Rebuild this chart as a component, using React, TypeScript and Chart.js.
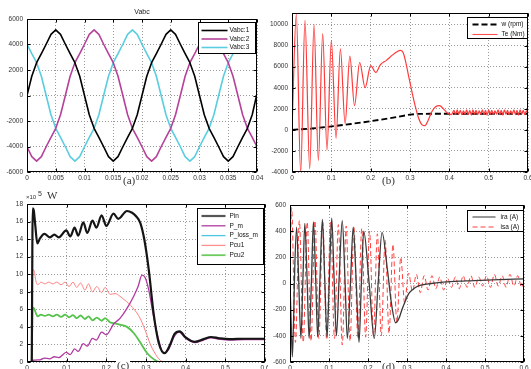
import React, { useEffect, useRef } from "react";
import { Chart, registerables } from "chart.js";
Chart.register(...registerables);

// ---------------- data ----------------
// (a) Vabc
const A_T = [0,0.00083,0.00167,0.0025,0.00333,0.00417,0.005,0.00583,0.00667,0.0075,0.00833,0.00917,0.01,0.01083,0.01167,0.0125,0.01333,0.01417,0.015,0.01583,0.01667,0.0175,0.01833,0.01917,0.02,0.02083,0.02167,0.0225,0.02333,0.02417,0.025,0.02583,0.02667,0.0275,0.02833,0.02917,0.03,0.03083,0.03167,0.0325,0.03333,0.03417,0.035,0.03583,0.03667,0.0375,0.03833,0.03917,0.04];
const A_V1 = [0,1513,2575,3281,4019,4794,5150,4794,4019,3281,2575,1513,0,-1513,-2575,-3281,-4019,-4794,-5150,-4794,-4019,-3281,-2575,-1513,0,1513,2575,3281,4019,4794,5150,4794,4019,3281,2575,1513,0,-1513,-2575,-3281,-4019,-4794,-5150,-4794,-4019,-3281,-2575,-1513,150];
const A_V2 = [-4019,-4794,-5150,-4794,-4019,-3281,-2575,-1513,0,1513,2575,3281,4019,4794,5150,4794,4019,3281,2575,1513,0,-1513,-2575,-3281,-4019,-4794,-5150,-4794,-4019,-3281,-2575,-1513,0,1513,2575,3281,4019,4794,5150,4794,4019,3281,2575,1513,0,-1513,-2575,-3281,-4019];
const A_V3 = [4019,3281,2575,1513,0,-1513,-2575,-3281,-4019,-4794,-5150,-4794,-4019,-3281,-2575,-1513,0,1513,2575,3281,4019,4794,5150,4794,4019,3281,2575,1513,0,-1513,-2575,-3281,-4019,-4794,-5150,-4794,-4019,-3281,-2575,-1513,0,1513,2575,3281,4019,4794,5150,4794,4019];
const A_XTICKS = [0,0.005,0.01,0.015,0.02,0.025,0.03,0.035,0.04];
const A_YTICKS = [-6000,-4000,-2000,0,2000,4000,6000];

// (b) w (rpm), Te (Nm)
const B_W_T = [0,0.05,0.1,0.15,0.2,0.25,0.3,0.32,0.35,0.6];
const B_W_V = [0,130,330,560,820,1120,1450,1520,1530,1530];
const B_TE_T = [0,0.011,0.022,0.033,0.045,0.056,0.067,0.078,0.089,0.1,0.112,0.123,0.135,0.147,0.159,0.172,0.186,0.2,0.213,0.225,0.24,0.255,0.268,0.276,0.283,0.29,0.297,0.305,0.313,0.322,0.33,0.338,0.346,0.355,0.365,0.375,0.385,0.395,0.405,
  0.412,0.416,0.42,0.424,0.428,0.432,0.436,0.44,0.444,0.448,0.452,0.456,0.46,0.464,0.468,0.472,0.476,0.48,0.484,0.488,0.492,0.496,0.5,0.504,0.508,0.512,0.516,0.52,0.524,0.528,0.532,0.536,0.54,0.544,0.548,0.552,0.556,0.56,0.564,0.568,0.572,0.576,0.58,0.584,0.588,0.592,0.596,0.6];
const B_TE_V = [0,11000,-4100,10400,-3700,10000,-2900,9150,-1900,8500,-800,7700,600,7000,2300,6400,4000,6100,5450,6200,6600,7100,7450,7550,7300,6300,5000,3600,2300,1100,500,400,900,1700,2200,2300,2000,1600,1450,
  1850,1450,1900,1500,1850,1450,1800,1500,1900,1450,1850,1400,
  1900,1500,1850,1450,1800,1500,1900,1450,1850,1400,1900,1500,
  1850,1450,1800,1500,1900,1450,1850,1400,1900,1500,1850,1450,
  1800,1500,1900,1450,1850,1400,1900,1500,1850,1450,1800,1600];
const B_XTICKS = [0,0.1,0.2,0.3,0.4,0.5,0.6];
const B_YTICKS = [-4000,-2000,0,2000,4000,6000,8000,10000];

// (c) powers, x10^5 W
const C_PIN_T = [0.012,0.0145,0.017,0.021,0.026,0.033,0.044,0.057,0.069,0.08,0.099,0.109,0.12,0.129,0.142,0.152,0.165,0.175,0.188,0.2,0.218,0.23,0.252,0.265,0.275,0.286,0.296,0.307,0.319,0.332,0.347,0.36,0.372,0.385,0.4,0.423,0.445,0.464,0.485,0.51,0.55,0.6];
const C_PIN_V = [0,17.5,17.3,15.5,13.5,14.1,14.6,14.2,14.5,14.2,15.0,14.3,15.3,14.4,15.9,14.7,16.1,15.3,16.7,15.5,16.9,16.3,17.2,17.0,16.6,15.8,13.9,10.5,5.6,2.2,1.0,1.9,3.2,3.5,2.8,2.3,2.6,2.85,2.7,2.6,2.65,2.65];
const C_PM_T = [0.012,0.015,0.033,0.044,0.057,0.069,0.08,0.099,0.109,0.12,0.129,0.142,0.152,0.165,0.175,0.188,0.2,0.218,0.235,0.252,0.269,0.28,0.29,0.298,0.307,0.319,0.332,0.345,0.358,0.37,0.383,0.4,0.423,0.445,0.464,0.485,0.51,0.55,0.6];
const C_PM_V = [0,0.2,0.25,0.45,0.35,0.6,0.5,1.1,0.85,1.5,1.2,2.1,1.8,2.7,2.5,3.4,3.1,4.3,5.0,6.1,7.5,8.6,9.9,9.6,8.2,5.2,2.5,1.0,1.5,2.8,3.4,2.7,2.2,2.5,2.75,2.6,2.5,2.55,2.55];
const C_PLOSS_T = [0.015,0.6];
const C_PLOSS_V = [0.05,0.05];
const C_CU1_T = [0.012,0.0145,0.018,0.022,0.027,0.035,0.045,0.055,0.065,0.075,0.086,0.096,0.106,0.116,0.125,0.135,0.146,0.155,0.165,0.176,0.188,0.197,0.21,0.222,0.234,0.245,0.256,0.266,0.277,0.286,0.294,0.303,0.311,0.32,0.328,0.336,0.345,0.6];
const C_CU1_V = [0,10.5,10.4,9.3,8.8,9.1,8.9,9.1,8.9,9.1,8.8,9.1,8.6,9.1,8.5,9.0,8.2,8.9,8.0,8.6,7.9,8.5,7.7,7.8,7.5,7.1,6.7,6.2,5.6,4.9,4.05,3.0,2.0,1.2,0.6,0.2,0,0];
const C_CU2_T = [0.012,0.0145,0.018,0.022,0.027,0.035,0.045,0.055,0.065,0.075,0.086,0.096,0.106,0.116,0.125,0.135,0.146,0.155,0.165,0.176,0.188,0.197,0.21,0.222,0.234,0.252,0.269,0.286,0.303,0.32,0.333,0.6];
const C_CU2_V = [0,6.2,6.1,5.6,5.2,5.4,5.25,5.4,5.2,5.4,5.15,5.4,5.1,5.35,5.0,5.3,4.9,5.2,4.75,5.05,4.7,5.0,4.5,4.4,4.25,4.0,3.3,2.2,1.0,0.3,0,0];
const C_XTICKS = [0,0.1,0.2,0.3,0.4,0.5,0.6];
const C_YTICKS = [0,2,4,6,8,10,12,14,16,18];

// (d) rotor / stator currents
const D_IRA_T = [0,0.003,0.006,0.009,0.012,0.017,0.022,0.028,0.033,0.038,0.044,0.049,0.055,0.06,0.066,0.071,0.077,0.083,0.089,0.095,0.101,0.107,0.113,0.119,0.126,0.134,0.141,0.147,0.155,0.162,0.17,0.177,0.183,0.189,0.203,0.216,0.226,0.236,0.25,0.26,0.271,0.279,0.287,0.295,0.303,0.315,0.328,0.362,0.45,0.52,0.6];
const D_IRA_V = [0,-300,-560,-300,100,430,50,-420,20,460,20,-420,20,470,20,-410,50,490,40,-410,40,500,40,-400,40,480,30,-420,0,430,0,-450,0,400,0,-420,0,390,100,-150,-300,-270,-200,-140,-85,-45,-20,0,20,28,35];
const D_ISA_T = [0,0.004,0.014,0.024,0.034,0.044,0.054,0.064,0.074,0.084,0.094,0.104,0.114,0.124,0.134,0.144,0.154,0.164,0.174,0.184,0.194,0.204,0.214,0.224,0.234,0.244,0.254,0.264,0.274,0.284,0.294,0.304,0.314,0.324,0.334,0.344,0.354,0.364,0.374,0.384,0.394,0.404,0.414,0.424,0.434,0.444,0.454,0.464,0.474,0.484,0.494,0.504,0.514,0.524,0.534,0.544,0.554,0.564,0.574,0.584,0.594,0.6];
const D_ISA_V = [0,580,-450,480,-450,470,-440,480,-420,470,-430,470,-420,450,-470,440,-440,430,-420,420,-410,400,-400,380,-400,330,-380,300,-300,200,-150,80,-60,70,-70,60,-50,60,-40,50,-50,40,-30,50,-40,60,-30,60,-30,50,-20,60,-30,70,-20,60,-30,70,-20,60,-30,20];
const D_XTICKS = [0,0.1,0.2,0.3,0.4,0.5,0.6];
const D_YTICKS = [-600,-400,-200,0,200,400,600];

// ---------------- helpers ----------------
const SANS = "'Liberation Sans', Arial, Helvetica, sans-serif";
const SERIF = "'Liberation Serif', 'Times New Roman', serif";
const TICK_SIZE = 6.5;

function pts(ts: number[], vs: number[]) {
  return ts.map((t, i) => ({ x: t, y: vs[i] }));
}
function fmtNum(v: number) {
  return String(Number(v.toFixed(4)));
}

type Item = { label: string; color: string; width: number; dash?: number[] };
type PanelDef = {
  plot: { L: number; T: number; R: number; B: number };
  pad: { l: number; t: number; r: number; b: number };
  x: { min: number; max: number; ticks: number[] };
  y: { min: number; max: number; ticks: number[] };
  datasets: any[];
  legend: { x: number; y: number; w: number; h: number; row0: number; rowH: number; line0: number; line1: number; text: number; items: Item[] };
};

function ds(label: string, data: any[], color: string, width: number, extra: any = {}) {
  return {
    label,
    data,
    borderColor: color,
    backgroundColor: color,
    borderWidth: width,
    pointRadius: 0,
    fill: false,
    borderJoinStyle: "round",
    ...extra,
  };
}

const PANELS: PanelDef[] = [
  {
    plot: { L: 27, T: 19, R: 257, B: 172 },
    pad: { l: 27, t: 19, r: 10, b: 15 },
    x: { min: 0, max: 0.04, ticks: A_XTICKS },
    y: { min: -6000, max: 6000, ticks: A_YTICKS },
    datasets: [
      ds("Vabc:1", pts(A_T, A_V1), "#000000", 1.6),
      ds("Vabc:2", pts(A_T, A_V2), "#b5429a", 1.6),
      ds("Vabc:3", pts(A_T, A_V3), "#5acde0", 1.6),
    ],
    legend: {
      x: 198, y: 22, w: 57, h: 31, row0: 8, rowH: 8.5, line0: 3, line1: 29, text: 31,
      items: [
        { label: "Vabc:1", color: "#000000", width: 1.6 },
        { label: "Vabc:2", color: "#b5429a", width: 1.6 },
        { label: "Vabc:3", color: "#5acde0", width: 1.6 },
      ],
    },
  },
  {
    plot: { L: 292, T: 13, R: 528, B: 172 },
    pad: { l: 34, t: 13, r: 3, b: 15 },
    x: { min: 0, max: 0.6, ticks: B_XTICKS },
    y: { min: -4000, max: 11100, ticks: B_YTICKS },
    datasets: [
      ds("Te (Nm)", pts(B_TE_T, B_TE_V), "#ff3a3a", 1.2, { cubicInterpolationMode: "monotone" }),
      ds("w (rpm)", pts(B_W_T, B_W_V), "#000000", 1.8, { borderDash: [6, 3] }),
    ],
    legend: {
      x: 467, y: 17, w: 60, h: 21, row0: 7, rowH: 10, line0: 5, line1: 30, text: 34,
      items: [
        { label: "w (rpm)", color: "#000000", width: 1.8, dash: [6, 3] },
        { label: "Te (Nm)", color: "#ff5050", width: 1.1 },
      ],
    },
  },
  {
    plot: { L: 27, T: 204, R: 265, B: 362 },
    pad: { l: 27, t: 10, r: 3, b: 7 },
    x: { min: 0, max: 0.6, ticks: C_XTICKS },
    y: { min: 0, max: 18, ticks: C_YTICKS },
    datasets: [
      ds("Pin", pts(C_PIN_T, C_PIN_V), "#151515", 2.2, { cubicInterpolationMode: "monotone" }),
      ds("P_m", pts(C_PM_T, C_PM_V), "#b03aa0", 1.3, { cubicInterpolationMode: "monotone" }),
      ds("P_loss_m", pts(C_PLOSS_T, C_PLOSS_V), "#4cc6dc", 1.3),
      ds("Pcu1", pts(C_CU1_T, C_CU1_V), "#ff7f7f", 1, { cubicInterpolationMode: "monotone" }),
      ds("Pcu2", pts(C_CU2_T, C_CU2_V), "#55c24a", 1.8, { cubicInterpolationMode: "monotone" }),
    ],
    legend: {
      x: 197, y: 208, w: 66, h: 56, row0: 7.5, rowH: 9.8, line0: 4, line1: 28, text: 32,
      items: [
        { label: "Pin", color: "#555555", width: 2.2 },
        { label: "P_m", color: "#b03aa0", width: 1.3 },
        { label: "P_loss_m", color: "#4cc6dc", width: 1.3 },
        { label: "Pcu1", color: "#ff9090", width: 1.3 },
        { label: "Pcu2", color: "#6ccc60", width: 1.8 },
      ],
    },
  },
  {
    plot: { L: 290, T: 205, R: 524, B: 362 },
    pad: { l: 32, t: 10, r: 7, b: 7 },
    x: { min: 0, max: 0.6, ticks: D_XTICKS },
    y: { min: -600, max: 600, ticks: D_YTICKS },
    datasets: [
      ds("ira (A)", pts(D_IRA_T, D_IRA_V), "#3a3a3a", 1.3, { cubicInterpolationMode: "monotone" }),
      ds("isa (A)", pts(D_ISA_T, D_ISA_V), "#ff4040", 1, { cubicInterpolationMode: "monotone", borderDash: [5, 3] }),
    ],
    legend: {
      x: 467, y: 210, w: 56, h: 21, row0: 6.5, rowH: 10, line0: 5, line1: 28, text: 33,
      items: [
        { label: "ira (A)", color: "#999999", width: 2 },
        { label: "isa (A)", color: "#ff4040", width: 1, dash: [5, 3] },
      ],
    },
  },
];

function Panel({ def }: { def: PanelDef }) {
  const ref = useRef<HTMLCanvasElement | null>(null);
  const cw = def.plot.R - def.plot.L + def.pad.l + def.pad.r;
  const ch = def.plot.B - def.plot.T + def.pad.t + def.pad.b;
  const cx = def.plot.L - def.pad.l;
  const cy = def.plot.T - def.pad.t;

  useEffect(() => {
    const canvas = ref.current;
    if (!canvas) return;

    const frame = {
      id: "frame",
      afterDatasetsDraw(chart: any) {
        const { ctx, chartArea: a } = chart;
        const xs = chart.scales.x;
        const ys = chart.scales.y;
        ctx.save();
        ctx.setLineDash([]);
        ctx.strokeStyle = "#000";
        ctx.lineWidth = 1;
        const l = Math.round(a.left) + 0.5;
        const r = Math.round(a.right) - 0.5;
        const t = Math.round(a.top) + 0.5;
        const b = Math.round(a.bottom) - 0.5;
        ctx.strokeRect(l, t, r - l, b - t);
        ctx.beginPath();
        for (const tk of xs.ticks) {
          const p = Math.round(xs.getPixelForValue(tk.value)) + 0.5;
          ctx.moveTo(p, b); ctx.lineTo(p, b - 3);
          ctx.moveTo(p, t); ctx.lineTo(p, t + 3);
        }
        for (const tk of ys.ticks) {
          const p = Math.round(ys.getPixelForValue(tk.value)) + 0.5;
          ctx.moveTo(l, p); ctx.lineTo(l + 3, p);
          ctx.moveTo(r, p); ctx.lineTo(r - 3, p);
        }
        ctx.stroke();

        const lg = def.legend;
        const bx = Math.round(lg.x - cx) + 0.5;
        const by = Math.round(lg.y - cy) + 0.5;
        ctx.fillStyle = "#ffffff";
        ctx.fillRect(bx, by, lg.w, lg.h);
        ctx.strokeStyle = "#000";
        ctx.lineWidth = 1;
        ctx.strokeRect(bx, by, lg.w, lg.h);
        ctx.font = `${TICK_SIZE}px ${SANS}`;
        ctx.textBaseline = "middle";
        ctx.textAlign = "left";
        lg.items.forEach((it, i) => {
          const yy = by + lg.row0 + i * lg.rowH;
          ctx.beginPath();
          ctx.strokeStyle = it.color;
          ctx.lineWidth = it.width;
          ctx.setLineDash(it.dash || []);
          ctx.moveTo(bx + lg.line0, yy);
          ctx.lineTo(bx + lg.line1, yy);
          ctx.stroke();
          ctx.setLineDash([]);
          ctx.fillStyle = "#111";
          ctx.fillText(it.label, bx + lg.text, yy);
        });
        ctx.restore();
      },
    };

    const axis = (ax: { min: number; max: number; ticks: number[] }, pos: "left" | "bottom") => ({
      type: "linear",
      position: pos,
      min: ax.min,
      max: ax.max,
      afterBuildTicks: (s: any) => {
        s.ticks = ax.ticks.map((v) => ({ value: v }));
      },
      afterFit: (s: any) => {
        if (pos === "left") s.width = def.pad.l;
        else s.height = def.pad.b;
        s.paddingLeft = 0;
        s.paddingRight = 0;
        s.paddingTop = 0;
        s.paddingBottom = 0;
      },
      grid: { color: "#9a9a9a", lineWidth: 1, drawTicks: false },
      border: { display: false, dash: [1, 2] },
      ticks: {
        autoSkip: false,
        maxRotation: 0,
        minRotation: 0,
        padding: pos === "left" ? 4 : 2,
        color: "#333",
        font: { family: SANS, size: TICK_SIZE },
        callback: (v: any) => fmtNum(Number(v)),
      },
    });

    const chart = new Chart(canvas, {
      type: "line",
      data: { datasets: def.datasets },
      options: {
        responsive: false,
        maintainAspectRatio: false,
        devicePixelRatio: 1,
        animation: false,
        events: [],
        parsing: true,
        layout: { padding: { left: 0, top: def.pad.t, right: def.pad.r, bottom: 0 } },
        plugins: { legend: { display: false }, tooltip: { enabled: false }, title: { display: false } },
        scales: { x: axis(def.x, "bottom"), y: axis(def.y, "left") },
      } as any,
      plugins: [frame as any],
    } as any);
    return () => chart.destroy();
  }, []);

  return (
    <canvas
      ref={ref}
      width={cw}
      height={ch}
      style={{ position: "absolute", left: cx, top: cy, width: cw, height: ch }}
    />
  );
}

const abs = (left: number, top: number, extra: any = {}) => ({
  position: "absolute" as const,
  left,
  top,
  whiteSpace: "nowrap" as const,
  ...extra,
});

export default function App() {
  const lab = { font: `11px ${SERIF}`, lineHeight: "11px", color: "#333", background: "#fff", padding: "0 1px" };
  return (
    <div style={{ position: "fixed", left: 0, top: 0, width: 531, height: 369, background: "#fff", overflow: "hidden" }}>
      {PANELS.map((p, i) => (
        <Panel key={i} def={p} />
      ))}
      <div style={abs(122, 8, { width: 40, textAlign: "center", font: `7px ${SANS}`, lineHeight: "7px", color: "#222" })}>Vabc</div>
      <div style={abs(122, 175, lab)}>(a)</div>
      <div style={abs(381, 175, lab)}>(b)</div>
      <div style={abs(116, 360, lab)}>(c)</div>
      <div style={abs(381, 361, lab)}>(d)</div>
      <div style={abs(26, 194, { font: `6px ${SANS}`, lineHeight: "6px", color: "#333" })}>×10</div>
      <div style={abs(38, 190, { font: `7px ${SANS}`, lineHeight: "7px", color: "#333" })}>5</div>
      <div style={abs(47, 190, { font: `11px ${SERIF}`, lineHeight: "11px", color: "#333" })}>W</div>
    </div>
  );
}
